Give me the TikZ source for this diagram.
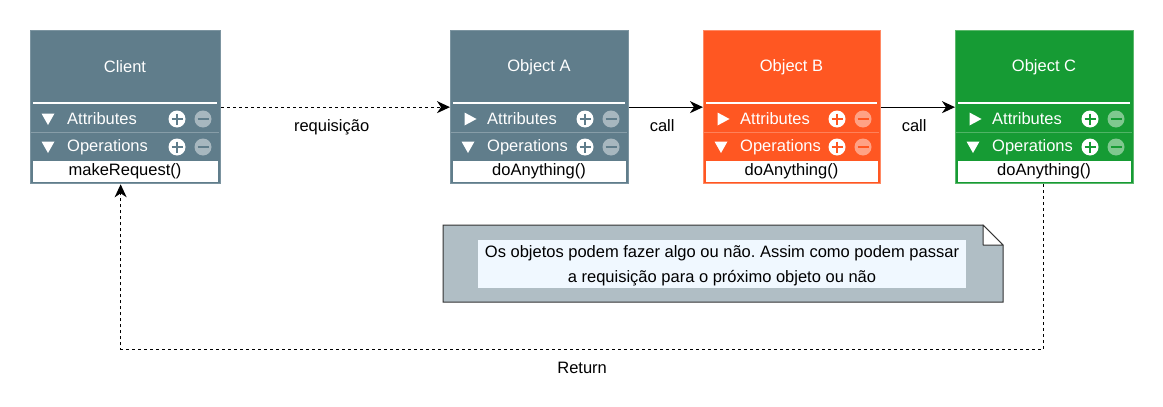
\documentclass[tikz,border=0pt]{standalone}
\usepackage{fontspec}
\setmainfont{Liberation Sans}
\frenchspacing
\usetikzlibrary{arrows.meta}
\definecolor{bgrey}{HTML}{607D8B}
\definecolor{bgreyline}{HTML}{7C94A0}
\definecolor{borange}{HTML}{FF5722}
\definecolor{borangeline}{HTML}{FF8A65}
\definecolor{bgreen}{HTML}{169B34}
\definecolor{bgreenline}{HTML}{5CB86C}
\definecolor{notefill}{HTML}{B0BEC5}
\definecolor{notetext}{HTML}{F0F8FF}
\definecolor{notedraw}{HTML}{333333}
\tikzset{
  txt/.style={font=\fontsize{16.5}{20}\selectfont, inner sep=0pt},
  wtxt/.style={txt, text=white},
  classbox/.style={inner sep=0pt, anchor=north west, line width=1.3pt},
  field/.style={fill=white, inner sep=0pt, anchor=north, minimum height=21pt},
  conn/.style={line width=1.3pt, -{Stealth[length=13pt,width=12pt,inset=4pt]}},
  dashconn/.style={conn, dash pattern=on 3pt off 3pt},
  lbl/.style={txt, text=black},
}
% #1 name, #2 x, #3 width, #4 fill, #5 stroke, #6 title, #7 attr triangle (d/r), #8 op triangle, #9 method
\newcommand\triD[2]{\fill[white] (#1-6.5,#2-5.5) -- (#1+6.5,#2-5.5) -- (#1,#2+6) -- cycle;}
\newcommand\triR[2]{\fill[white] (#1-5.5,#2-6.5) -- (#1-5.5,#2+6.5) -- (#1+6.5,#2) -- cycle;}
\newcommand\umlclass[9]{%
  \node[classbox, draw=#5, fill=#4, minimum width=#3pt, minimum height=153pt] (#1) at (#2,30) {};
  \node[wtxt] (#1-t) at ({#2+#3/2},67) {#6};
  \draw[white, line width=2pt] ({#2+3},103) -- ({#2+#3-3},103);
  \draw[white, opacity=0.25, line width=0.8pt] ({#2+1},132.5) -- ({#2+#3-1},132.5);
  \if d#7 \triD{#2+18}{119}\else \triR{#2+20}{119}\fi
  \if d#8 \triD{#2+18}{147}\else \triR{#2+20}{147}\fi
  \node[wtxt, anchor=west] (#1-a) at ({#2+37},119) {Attributes};
  \node[wtxt, anchor=west] (#1-o) at ({#2+37},147) {Operations};
  \foreach \yy in {119,147}{
    \fill[white] ({#2+#3-43},\yy) circle (8.5pt);
    \draw[#4, line width=2.6pt] ({#2+#3-48.5},\yy) -- ({#2+#3-37.5},\yy) ({#2+#3-43},\yy-5.5) -- ({#2+#3-43},\yy+5.5);
    \fill[white, opacity=0.45] ({#2+#3-17},\yy) circle (8.5pt);
    \draw[#4, line width=2.6pt] ({#2+#3-22.5},\yy) -- ({#2+#3-11.5},\yy);
  }
  \node[field, minimum width={(#3-5)*1pt}] (#1-m) at ({#2+#3/2},160.5) {};
  \node[lbl] at (#1-m.center) {#9};
}
\begin{document}
\begin{tikzpicture}[x=1pt,y=-1pt]
\useasboundingbox (0,0) rectangle (1163,407);
\umlclass{client}{30}{190}{bgrey}{bgreyline}{Client}{d}{d}{makeRequest()}
\umlclass{oa}{450}{178}{bgrey}{bgreyline}{Object A}{r}{d}{doAnything()}
\umlclass{ob}{703}{177}{borange}{borangeline}{Object B}{r}{d}{doAnything()}
\umlclass{oc}{955}{178}{bgreen}{bgreenline}{Object C}{r}{d}{doAnything()}

\draw[dashconn] (client.east) -- node[lbl, midway, below=12pt, xshift=-4pt] (l1) {requisição} (oa.west);
\draw[conn] (oa.east) -- node[lbl, midway, below=12pt, xshift=-4pt] (l2) {call} (ob.west);
\draw[conn] (ob.east) -- node[lbl, midway, below=12pt, xshift=-4pt] (l3) {call} (oc.west);
\draw[dashconn] ([xshift=-1pt]oc.south) -- ++(0,165) -| node[lbl, pos=0.25, below=12pt] (l4) {Return} ([xshift=-5pt]client.south);

% note
\fill[notefill, draw=notedraw, line width=1pt] (443,225) -- (983,225) -- (1003,245) -- (1003,302) -- (443,302) -- cycle;
\fill[white, draw=notedraw, line width=1pt, line join=round] (983,225) -- (983,245) -- (1003,245) -- cycle;
\node[fill=notetext, minimum width=488pt, minimum height=48pt, inner sep=0pt] (note) at (722,264) {};
\node[align=center, inner sep=0pt, font=\fontsize{16.5}{25}\selectfont] (notetxt) at (722,266) {Os objetos podem fazer algo ou não. Assim como podem passar\\a requisição para o próximo objeto ou não};
\end{tikzpicture}
\end{document}
